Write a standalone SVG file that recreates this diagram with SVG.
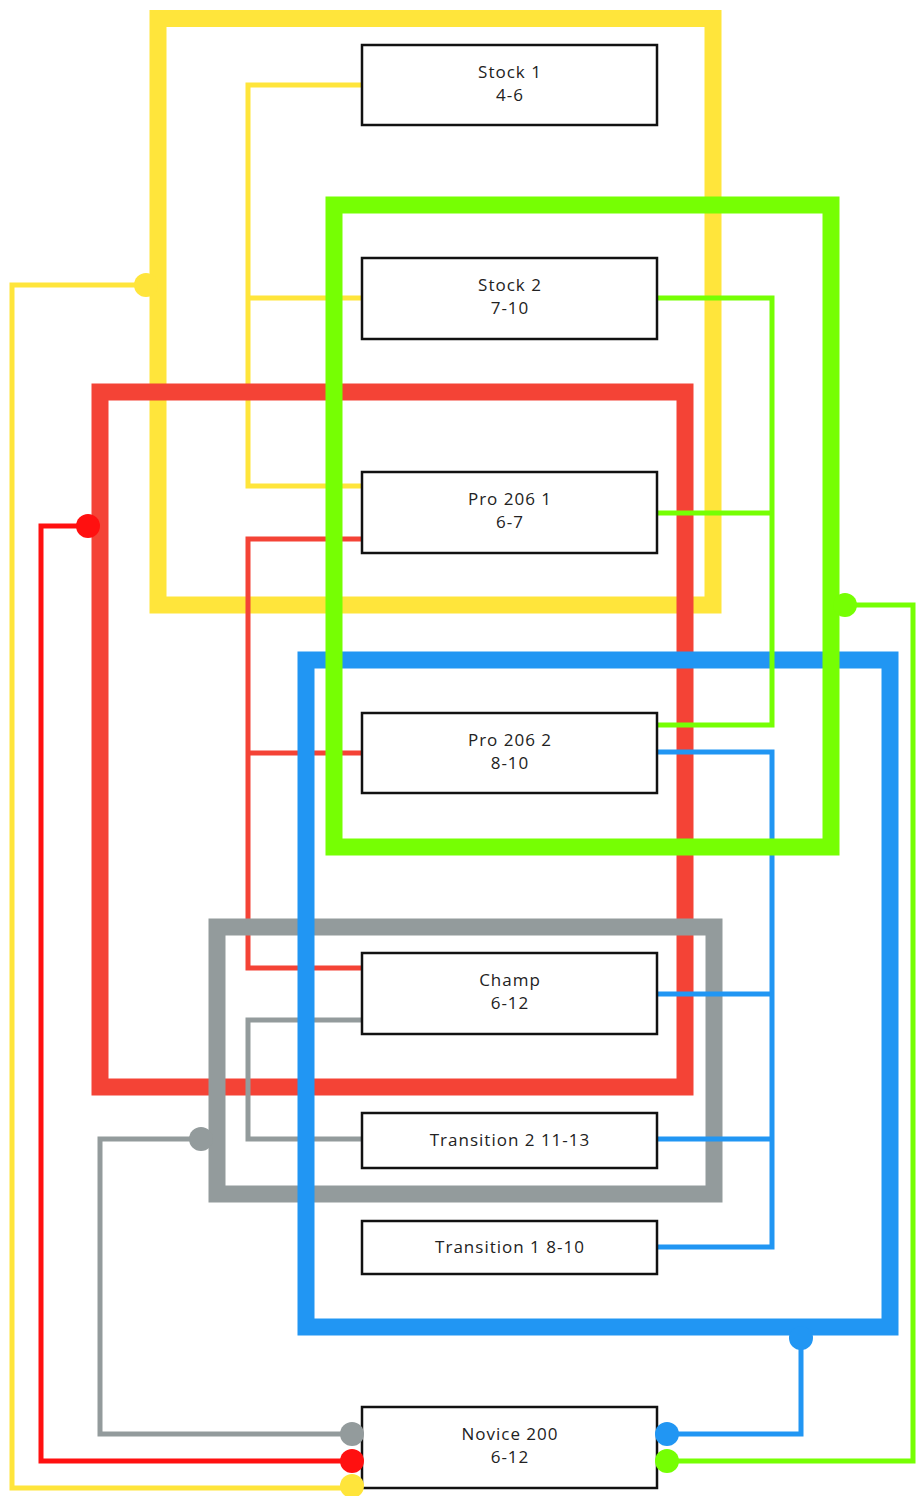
<svg xmlns="http://www.w3.org/2000/svg" width="916" height="1496" viewBox="0 0 916 1496">
<style>
.grp{fill:none;stroke-width:17;stroke-linecap:square}
.ln{fill:none;stroke-width:5;stroke-linejoin:miter}
.y{stroke:#FFE53B}.r{stroke:#F44336}.rr{stroke:#FF1010}.g{stroke:#939B9C}.b{stroke:#2196F3}.gr{stroke:#76FF03}
.node rect{fill:#fff;stroke:#111;stroke-width:2.5}
.node text{font-family:"Open Sans","Liberation Sans",sans-serif;font-size:17px;letter-spacing:1px;fill:#222;text-anchor:middle}
</style>
<rect width="916" height="1496" fill="#fff"/>
<g id="connectors">
  <rect class="grp y" x="158" y="18.5" width="555" height="586.5"/>
  <path class="ln y" d="M362 85H248V486H362M248 298H362"/>
  <path class="ln y" d="M146 285H12V1488H352"/>
  <circle cx="146" cy="285" r="12" fill="#FFE53B"/>
  <rect class="grp r" x="100" y="392" width="585" height="695"/>
  <path class="ln r" d="M362 539H248V968H362M248 753H362"/>
  <path class="ln rr" d="M88 526H41V1461H352"/>
  <circle cx="88" cy="526" r="12" fill="#FF1010"/>
  <rect class="grp g" x="217" y="927" width="497" height="267"/>
  <path class="ln g" d="M362 1020H248V1139H362"/>
  <path class="ln g" d="M201 1139H100V1434H352"/>
  <circle cx="201" cy="1139" r="12" fill="#939B9C"/>
  <rect class="grp b" x="306" y="660" width="584" height="667"/>
  <path class="ln b" d="M657 752H772V1247H657M657 994H772M657 1139H772"/>
  <path class="ln b" d="M801 1338V1434H667"/>
  <circle cx="801" cy="1338" r="12" fill="#2196F3"/>
  <rect class="grp gr" x="334" y="205" width="497" height="642"/>
  <path class="ln gr" d="M657 298H772V725H657M657 513H772"/>
  <path class="ln gr" d="M845 605H913V1461H667"/>
  <circle cx="845" cy="605" r="12" fill="#76FF03"/>
</g>
<g id="stock1" class="node"><rect x="362" y="45" width="295" height="80"/><text x="510" y="77.5">Stock 1</text><text x="510" y="100.5">4-6</text></g>
<g id="stock2" class="node"><rect x="362" y="258" width="295" height="81"/><text x="510" y="291">Stock 2</text><text x="510" y="314">7-10</text></g>
<g id="pro2061" class="node"><rect x="362" y="472" width="295" height="81"/><text x="510" y="505">Pro 206 1</text><text x="510" y="528">6-7</text></g>
<g id="pro2062" class="node"><rect x="362" y="713" width="295" height="80"/><text x="510" y="745.5">Pro 206 2</text><text x="510" y="768.5">8-10</text></g>
<g id="champ" class="node"><rect x="362" y="953" width="295" height="81"/><text x="510" y="986">Champ</text><text x="510" y="1009">6-12</text></g>
<g id="transition2" class="node"><rect x="362" y="1113" width="295" height="55"/><text x="510" y="1146">Transition 2 11-13</text></g>
<g id="transition1" class="node"><rect x="362" y="1221" width="295" height="53"/><text x="510" y="1253">Transition 1 8-10</text></g>
<g id="novice200" class="node"><rect x="362" y="1407" width="295" height="81"/><text x="510" y="1440">Novice 200</text><text x="510" y="1463">6-12</text></g>
<g id="novice-ports">
  <circle cx="352" cy="1434" r="12" fill="#939B9C"/>
  <circle cx="352" cy="1461" r="12" fill="#FF1010"/>
  <circle cx="352" cy="1486" r="12" fill="#FFE53B"/>
  <circle cx="667" cy="1434" r="12" fill="#2196F3"/>
  <circle cx="667" cy="1461" r="12" fill="#76FF03"/>
</g>
</svg>
